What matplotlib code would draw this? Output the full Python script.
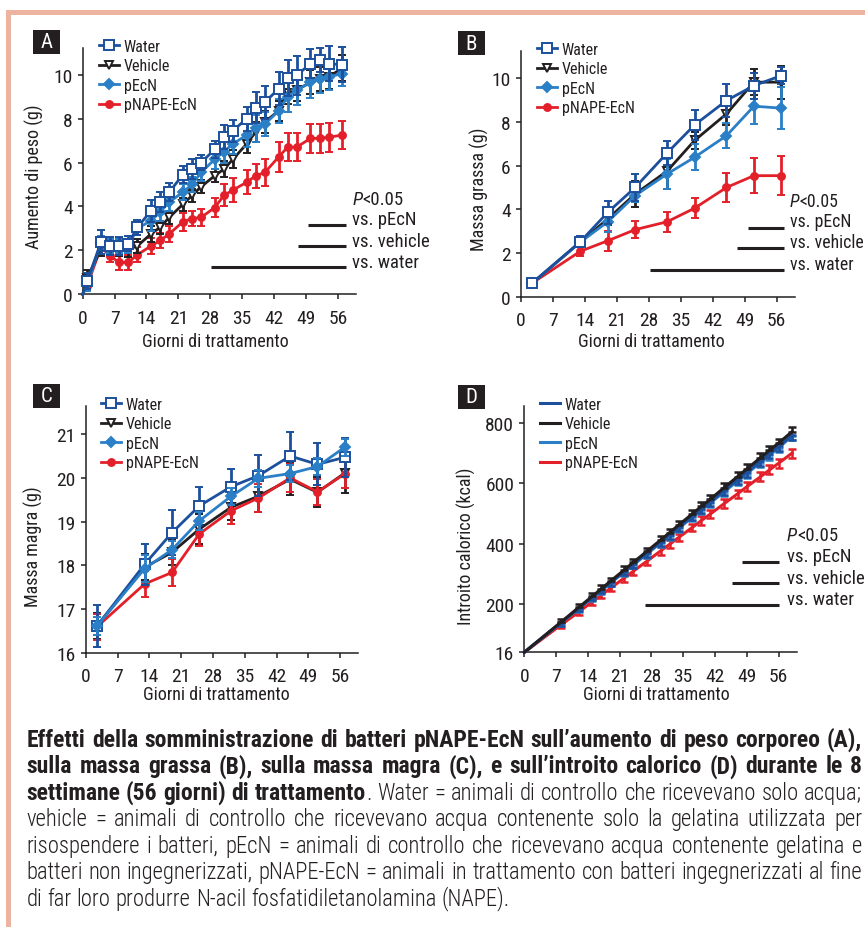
import matplotlib
matplotlib.use("Agg")
import matplotlib.pyplot as plt
from matplotlib import font_manager as fm
from matplotlib.lines import Line2D
from matplotlib.patches import Rectangle

# ---------------- data ----------------
names = ["Water", "Vehicle", "pEcN", "pNAPE-EcN"]
xticks = [0, 7, 14, 21, 28, 35, 42, 49, 56]

# A: weight gain (g)
days_a = [0, 1, 4, 6, 8, 10, 12, 15, 17, 19, 22, 24, 26, 29, 31, 33, 36, 38, 40, 43, 45, 47, 50, 52, 54, 57]
water_a = [0, 0.6, 2.37, 2.2, 2.2, 2.3, 3.05, 3.8, 4.2, 4.65, 5.45, 5.7, 6.0, 6.6, 7.15, 7.45, 8.0, 8.5, 8.75, 9.35, 9.85, 9.97, 10.5, 10.65, 10.5, 10.45]
vehicle_a = [0, 0.75, 2.05, 2.15, 2.15, 2.05, 2.2, 2.75, 3.05, 3.5, 4.1, 4.5, 4.9, 5.4, 5.7, 6.15, 6.85, 7.4, 7.85, 8.35, 9.15, 9.3, 9.65, 9.8, 9.9, 10.3]
pecn_a = [0, 0.45, 2.35, 2.2, 2.2, 2.2, 3.0, 3.35, 3.75, 4.2, 4.65, 5.0, 5.55, 6.15, 6.5, 6.85, 7.25, 7.55, 7.75, 8.35, 9.0, 9.3, 9.65, 9.8, 9.9, 10.05]
napa_a = [0, 0.4, 2.15, 1.75, 1.45, 1.45, 1.8, 2.2, 2.45, 2.75, 3.3, 3.45, 3.5, 3.95, 4.5, 4.75, 5.1, 5.4, 5.55, 6.25, 6.7, 6.7, 7.1, 7.1, 7.15, 7.25]
water_a_err = [0, 0.35, 0.55, 0.4, 0.4, 0.35, 0.35, 0.5, 0.45, 0.4, 0.4, 0.45, 0.35, 0.4, 0.55, 0.5, 0.55, 0.7, 0.75, 0.75, 0.8, 0.9, 0.65, 0.55, 0.8, 0.8]
vehicle_a_err = [0, 0.35, 0.3, 0.3, 0.4, 0.35, 0.3, 0.35, 0.3, 0.3, 0.3, 0.3, 0.3, 0.3, 0.35, 0.4, 0.4, 0.45, 0.5, 0.45, 0.5, 0.5, 0.55, 0.55, 0.55, 0.6]
pecn_a_err = [0, 0.3, 0.3, 0.3, 0.3, 0.3, 0.3, 0.45, 0.4, 0.4, 0.35, 0.35, 0.4, 0.45, 0.5, 0.45, 0.55, 0.6, 0.55, 0.55, 0.7, 0.7, 0.7, 0.65, 0.6, 0.55]
napa_a_err = [0, 0.15, 0.2, 0.3, 0.35, 0.35, 0.35, 0.35, 0.35, 0.35, 0.4, 0.35, 0.4, 0.45, 0.5, 0.55, 0.55, 0.55, 0.6, 0.7, 0.65, 0.65, 0.65, 0.65, 0.65, 0.65]

# B: fat mass (g)
days_bc = [2.5, 13, 19, 25, 32, 38, 45, 51, 57]
water_b = [0.63, 2.52, 3.86, 5.0, 6.58, 7.86, 8.98, 9.66, 10.12]
vehicle_b = [0.63, 2.5, 3.56, 4.7, 5.75, 7.15, 8.37, 9.82, 9.82]
pecn_b = [0.63, 2.5, 3.43, 4.63, 5.62, 6.38, 7.37, 8.72, 8.63]
napa_b = [0.63, 2.08, 2.56, 3.07, 3.43, 4.05, 5.0, 5.54, 5.54]
water_b_err = [0.1, 0.25, 0.53, 0.6, 0.53, 0.7, 0.77, 0.6, 0.4]
vehicle_b_err = [0.1, 0.2, 0.3, 0.6, 0.8, 0.4, 0.5, 0.6, 0.75]
pecn_b_err = [0.1, 0.2, 0.45, 0.3, 0.7, 0.6, 0.57, 0.8, 0.95]
napa_b_err = [0.1, 0.2, 0.45, 0.4, 0.45, 0.45, 0.67, 0.8, 0.9]

# C: lean mass (g)
water_c = [16.62, 18.03, 18.75, 19.36, 19.8, 20.05, 20.5, 20.31, 20.47]
vehicle_c = [16.62, 17.96, 18.3, 18.83, 19.33, 19.58, 19.97, 19.67, 20.11]
pecn_c = [16.62, 17.93, 18.36, 19.02, 19.58, 19.99, 20.1, 20.26, 20.7]
napa_c = [16.6, 17.58, 17.84, 18.72, 19.25, 19.54, 20.0, 19.68, 20.09]
water_c_err = [0.48, 0.47, 0.52, 0.43, 0.4, 0.47, 0.55, 0.48, 0.45]
vehicle_c_err = [0.3, 0.3, 0.3, 0.35, 0.3, 0.37, 0.37, 0.34, 0.45]
pecn_c_err = [0.2, 0.3, 0.2, 0.2, 0.2, 0.2, 0.2, 0.2, 0.2]
napa_c_err = [0.3, 0.3, 0.3, 0.27, 0.3, 0.31, 0.32, 0.3, 0.33]

# D: caloric intake (kcal)
days_d = [0, 8, 12, 15, 17, 19, 22, 24, 27, 30, 32, 34, 37, 39, 41, 44, 47, 49, 52, 54, 56, 59]
water_d = [40, 138, 186, 223, 247, 272, 308, 333, 369, 406, 430, 455, 491, 516, 540, 577, 613, 638, 674, 699, 723, 760]
vehicle_d = [40, 139, 189, 226, 251, 276, 313, 338, 375, 412, 437, 462, 499, 524, 548, 586, 623, 648, 685, 710, 734, 772]
pecn_d = [40, 137, 185, 221, 245, 270, 306, 330, 366, 403, 427, 451, 488, 512, 536, 572, 609, 633, 669, 694, 718, 758]
napa_d = [40, 130, 174, 208, 230, 253, 286, 309, 342, 376, 398, 421, 454, 477, 499, 533, 566, 589, 622, 645, 667, 701]
err_d = [0, 10, 10, 11, 11, 11, 12, 12, 12, 13, 13, 13, 13, 14, 14, 14, 14, 15, 15, 15, 15, 15]
yticks_d = [40, 200, 400, 600, 800]
ylabels_d = ["16", "200", "400", "600", "800"]

# significance bars: (start day, end day, y) for vs. pEcN, vs. vehicle, vs. water
sig_a = [(49.4, 57.7, 3.16), (47.2, 57.7, 2.2), (28.1, 57.7, 1.24)]
sig_b = [(49.6, 57.7, 3.15), (47.4, 57.7, 2.22), (28.3, 57.7, 1.24)]
sig_d = [(47.9, 56.0, 339), (45.7, 56.0, 270), (26.5, 56.0, 198)]
sig_labels = ["vs. pEcN", "vs. vehicle", "vs. water"]

cap_bold = ["Effetti della somministrazione di batteri pNAPE-EcN sull’aumento di peso corporeo (A),",
            "sulla massa grassa (B), sulla massa magra (C), e sull’introito calorico (D) durante le 8",
            "settimane (56 giorni) di trattamento"]
cap_rest = ["Water = animali di controllo che ricevevano solo acqua;",
            "vehicle = animali di controllo che ricevevano acqua contenente solo la gelatina utilizzata per",
            "risospendere i batteri, pEcN = animali di controllo che ricevevano acqua contenente gelatina e",
            "batteri non ingegnerizzati, pNAPE-EcN = animali in trattamento con batteri ingegnerizzati al fine",
            "di far loro produrre N-acil fosfatidiletanolamina (NAPE)."]

# ---------------- fonts ----------------
fnames = {f.name for f in fm.fontManager.ttflist}
FONT, STRETCH, k = "Liberation Sans", "normal", 0.86
for cand in ["Liberation Sans Narrow", "Roboto Condensed", "Open Sans Condensed", "Noto Sans Condensed"]:
    if cand in fnames:
        FONT, k = cand, 1.0
        break
else:
    if any(f.name == "DejaVu Sans" and "condensed" in str(f.stretch) for f in fm.fontManager.ttflist):
        FONT, STRETCH, k = "DejaVu Sans", "condensed", 0.92
plt.rcParams["font.family"] = [FONT, "DejaVu Sans"]
plt.rcParams["font.stretch"] = STRETCH

INK = "#231f20"
C_WATER, C_VEH, C_PECN, C_RED = "#1c4f9c", "#231f20", "#2a7fc6", "#e3202a"
styles = [dict(c=C_WATER, m="s", ms=6.5, mfc="white"),
          dict(c=C_VEH, m="v", ms=6, mfc="white"),
          dict(c=C_PECN, m="D", ms=5, mfc=C_PECN),
          dict(c=C_RED, m="o", ms=5, mfc=C_RED)]

W, H = 865, 929
fig = plt.figure(figsize=(W / 100, H / 100), dpi=100)


def px_axes(x0, x1, ytop, ybot):
    return fig.add_axes([x0 / W, 1 - ybot / H, (x1 - x0) / W, (ybot - ytop) / H])


def style(ax, ylim, yticks, ylab, ylab_xy, xlab_xy):
    for s in ["top", "right"]:
        ax.spines[s].set_visible(False)
    for s in ["left", "bottom"]:
        ax.spines[s].set_linewidth(1.1)
        ax.spines[s].set_color(INK)
    ax.set_xlim(0, 60)
    ax.set_ylim(*ylim)
    ax.set_xticks(xticks)
    ax.set_yticks(yticks)
    ax.tick_params(direction="out", length=3.8, width=1.1, color=INK,
                   labelsize=14 * k, labelcolor=INK)
    ax.tick_params(axis="x", pad=6.5)
    ax.tick_params(axis="y", pad=3.5)
    ax.set_facecolor("none")
    ax.set_ylabel(ylab, fontsize=13 * k, color=INK, va="center")
    ax.yaxis.set_label_coords(*ylab_xy)
    ax.set_xlabel("Giorni di trattamento", fontsize=13 * k, color=INK, va="center")
    ax.xaxis.set_label_coords(*xlab_xy)


def series(ax, x, y, e, st, skip0=False, z=2):
    kw = dict(color=st["c"], lw=2.0, marker=st["m"], ms=st["ms"], mfc=st["mfc"], mec=st["c"],
              mew=1.4, elinewidth=2.0, capsize=3.0, capthick=2.0, zorder=z, clip_on=False)
    if skip0:
        kw.update(markevery=slice(1, None), errorevery=(1, 1))
    ax.errorbar(x, y, yerr=e, **kw)


def legend(ax, x, ytop, lines_only=False):
    hs = []
    for st in styles:
        if lines_only:
            hs.append(Line2D([], [], color=st["c"], lw=2.2))
        else:
            hs.append(Line2D([], [], color=st["c"], lw=2.0, marker=st["m"], ms=st["ms"],
                             mfc=st["mfc"], mec=st["c"], mew=1.4))
    ax.legend(hs, names, loc="upper left", bbox_to_anchor=(x / W, 1 - ytop / H),
              bbox_transform=fig.transFigure, frameon=False, fontsize=11.5 * k,
              handlelength=1.25, handletextpad=0.3, labelspacing=0.28, borderpad=0,
              borderaxespad=0, labelcolor=INK)


p_texts = []


def sig(ax, bars, text_x, ys, p_y, fsz=13.5):
    for (a, b, y) in bars:
        ax.plot([a, b], [y, y], color=INK, lw=2.2, solid_capstyle="butt", clip_on=False)
    for lab, y in zip(sig_labels, ys):
        ax.text(text_x, y, lab, fontsize=fsz * k, color=INK, va="center", ha="left", clip_on=False)
    t = ax.text(text_x, p_y, "P", fontsize=fsz * k, color=INK, va="center", ha="left",
                style="italic", clip_on=False)
    p_texts.append((ax, t, fsz))


# ---------------- panel A ----------------
axA = px_axes(82.7, 356, 49.3, 295.3)
style(axA, (0, 11.2), [0, 2, 4, 6, 8, 10], "Aumento di peso (g)", (-0.175, 0.48), (0.484, -0.19))
series(axA, days_a, napa_a, napa_a_err, styles[3], True, 2)
series(axA, days_a, vehicle_a, vehicle_a_err, styles[1], True, 3)
series(axA, days_a, pecn_a, pecn_a_err, styles[2], True, 4)
series(axA, days_a, water_a, water_a_err, styles[0], True, 5)
legend(axA, 99, 40)
sig(axA, sig_a, 59.2, [3.43, 2.44, 1.49], 4.35)

# ---------------- panel B ----------------
axB = px_axes(521, 795, 51.7, 297.7)
style(axB, (0, 11.26), [0, 2, 4, 6, 8, 10], "Massa grassa (g)", (-0.152, 0.44), (0.477, -0.18))
series(axB, days_bc, napa_b, napa_b_err, styles[3], False, 2)
series(axB, days_bc, vehicle_b, vehicle_b_err, styles[1], False, 3)
series(axB, days_bc, pecn_b, pecn_b_err, styles[2], False, 4)
series(axB, days_bc, water_b, water_b_err, styles[0], False, 5)
legend(axB, 537, 42.7)
sig(axB, sig_b, 58.9, [3.45, 2.49, 1.5], 4.4, fsz=12.8)

# ---------------- panel C ----------------
axC = px_axes(85.7, 358.3, 406.7, 654)
style(axC, (16, 21.65), [16, 17, 18, 19, 20, 21], "Massa magra (g)", (-0.192, 0.434), (0.48, -0.166))
series(axC, days_bc, vehicle_c, vehicle_c_err, styles[1], False, 2)
series(axC, days_bc, napa_c, napa_c_err, styles[3], False, 3)
series(axC, days_bc, water_c, water_c_err, styles[0], False, 4)
series(axC, days_bc, pecn_c, pecn_c_err, styles[2], False, 5)
legend(axC, 101, 398)

# ---------------- panel D ----------------
axD = px_axes(524.3, 796.7, 406.7, 653.3)
style(axD, (40, 858), yticks_d, "Introito calorico (kcal)", (-0.214, 0.432), (0.486, -0.169))
axD.set_yticklabels(ylabels_d)
zero = [0] * len(err_d)
for vals, st, yerr, z in [(napa_d, styles[3], [err_d, err_d], 2),
                          (pecn_d, styles[2], [err_d, zero], 3),
                          (water_d, styles[0], [err_d, zero], 4),
                          (vehicle_d, styles[1], [zero, err_d], 5)]:
    axD.plot(days_d, vals, color=st["c"], lw=2.2, zorder=z, clip_on=False)
    axD.errorbar(days_d, vals, yerr=yerr, fmt="none", ecolor=st["c"], elinewidth=1.8,
                 capsize=3.0, capthick=1.8, errorevery=(1, 1), zorder=z, clip_on=False)
legend(axD, 540, 398, lines_only=True)
sig(axD, sig_d, 57.8, [359, 287, 217], 428)

# ---------------- frame and panel letters ----------------
FRAME = "#ebb3a0"
fig.add_artist(Rectangle((6 / W, 1 - 16 / H), (W - 6) / W, 5 / H, transform=fig.transFigure,
                         color=FRAME, lw=0))
fig.add_artist(Rectangle((6 / W, 1 - 928 / H), 5 / W, 917 / H, transform=fig.transFigure,
                         color=FRAME, lw=0))
for L, (x0, y0) in zip("ABCD", [(33, 31), (458, 32), (33, 385), (458, 386)]):
    fig.add_artist(Rectangle((x0 / W, 1 - (y0 + 24) / H), 27 / W, 24 / H,
                             transform=fig.transFigure, color=INK, lw=0))
    fig.text((x0 + 13.5) / W, 1 - (y0 + 12) / H, L, color="white", fontsize=15 * k,
             ha="center", va="center")

# ---------------- measured placement: P<0.05 and justified caption ----------------
fig.canvas.draw()
rend = fig.canvas.get_renderer()

for ax, t, fsz in p_texts:
    bb = t.get_window_extent(rend)
    x_data = ax.transData.inverted().transform((bb.x1, 0))[0]
    ax.text(x_data, t.get_position()[1], "<0.05", fontsize=fsz * k, color=INK,
            va="center", ha="left", clip_on=False)


def tw(s, bold, fs):
    t = fig.text(0, 0, s, fontsize=fs, weight="bold" if bold else "light")
    w = t.get_window_extent(rend).width
    t.remove()
    return w


lines = [[[(w, True)] for w in cap_bold[0].split()],
         [[(w, True)] for w in cap_bold[1].split()]]
l3 = [[(w, True)] for w in cap_bold[2].split()]
l3[-1].append((".", False))
l3 += [[(w, False)] for w in cap_rest[0].split()]
lines.append(l3)
for s in cap_rest[1:]:
    lines.append([[(w, False)] for w in s.split()])

X0, X1 = 26.5, 862.0


def fit(lns, bold, start):
    f = start
    while f > 8:
        sp = tw("a a", bold, f) - tw("aa", bold, f)
        widest = max(sum(tw(seg, bold, f) for word in ln for seg, b in word) + sp * (len(ln) - 1)
                     for ln in lns)
        if widest <= X1 - X0:
            break
        f -= 0.25
    return f


fs_reg = fit(lines[3:], False, 17.5 * k)
fs_bold = min(fit(lines[:2], True, 19 * k), fs_reg * 1.1)
sp = tw("a a", False, fs_reg) - tw("aa", False, fs_reg)

base0, step = 746.7, 26.5
for i, ln in enumerate(lines):
    widths = [[tw(seg, b, fs_bold if b else fs_reg) for seg, b in word] for word in ln]
    total = sum(sum(w) for w in widths)
    gap = sp if i == len(lines) - 1 else (X1 - X0 - total) / (len(ln) - 1)
    x = X0
    yb = 1 - (base0 + i * step) / H
    for word, ws in zip(ln, widths):
        for (seg, b), w in zip(word, ws):
            fig.text(x / W, yb, seg, fontsize=fs_bold if b else fs_reg,
                     weight="bold" if b else "light", color=INK, ha="left", va="baseline")
            x += w
        x += gap

fig.savefig("out.png", dpi=100)
